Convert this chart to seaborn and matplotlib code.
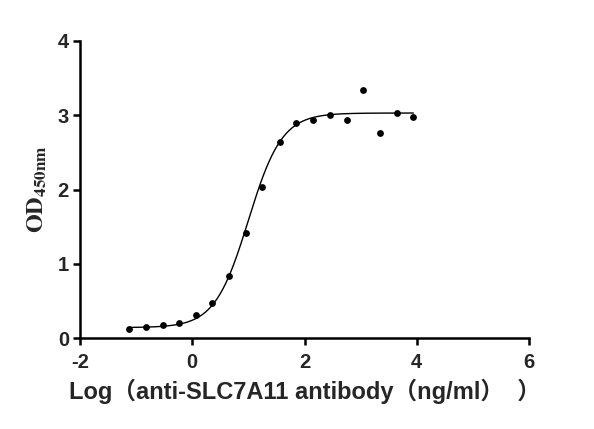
import numpy as np
import pandas as pd
import matplotlib
matplotlib.use("Agg")
import matplotlib.pyplot as plt
import seaborn as sns

# data: log10 concentration vs OD450
log_conc = [-1.12, -0.83, -0.53, -0.23, 0.07, 0.36, 0.66, 0.96, 1.25,
            1.56, 1.85, 2.15, 2.45, 2.75, 3.04, 3.34, 3.65, 3.94]
od450 = [0.12, 0.15, 0.17, 0.20, 0.31, 0.47, 0.84, 1.42, 2.04,
         2.64, 2.90, 2.93, 3.00, 2.93, 3.34, 2.76, 3.03, 2.98]

# four-parameter logistic fit parameters
fit_bottom = 0.14
fit_top = 3.03
fit_logec50 = 1.0
fit_hill = 1.45

x_ticks = [-2, 0, 2, 4, 6]
y_ticks = [0, 1, 2, 3, 4]

sns.set_theme(style="ticks")
plt.rcParams['font.family'] = ['Liberation Sans', 'Noto Sans CJK SC', 'DejaVu Sans']
plt.rcParams['mathtext.fontset'] = 'stix'

fig = plt.figure(figsize=(5.94, 4.29), dpi=100)
ax = fig.add_axes([80/594, 1-338/429, (529-80)/594, (338-41)/429])

pts = pd.DataFrame({"x": log_conc, "y": od450})
xs = np.linspace(min(log_conc), max(log_conc), 300)
ys = fit_bottom + (fit_top - fit_bottom) / (1 + 10 ** (fit_hill * (fit_logec50 - xs)))
curve = pd.DataFrame({"x": xs, "y": ys})

sns.lineplot(data=curve, x="x", y="y", ax=ax, color="black", linewidth=1.0)
sns.scatterplot(data=pts, x="x", y="y", ax=ax, color="black", s=24,
                edgecolor="black", linewidth=0, zorder=3)

ax.set_xlim(-2, 6)
ax.set_ylim(0, 4)
ax.set_xticks(x_ticks)
ax.set_yticks(y_ticks)
ax.set_xticklabels([str(t) for t in x_ticks])
ax.set_yticklabels([str(t) for t in y_ticks])
for lab in ax.get_xticklabels() + ax.get_yticklabels():
    lab.set_fontweight("bold")
    lab.set_fontsize(14.5)
ax.tick_params(axis="x", width=1.8, length=5, color="black", pad=5.5)
ax.tick_params(axis="y", width=1.8, length=5, color="black", pad=3)

for side in ["top", "right"]:
    ax.spines[side].set_visible(False)
for side in ["left", "bottom"]:
    ax.spines[side].set_linewidth(1.8)
    ax.spines[side].set_color("black")

ax.set_xlabel("Log（anti-SLC7A11 antibody（ng/ml）  ）", fontsize=17,
              fontweight="bold", labelpad=5)
ax.set_ylabel(r"$\mathbf{OD}_{\mathbf{450nm}}$", fontsize=17.5, labelpad=6)

fig.savefig("out.png", dpi=100)
